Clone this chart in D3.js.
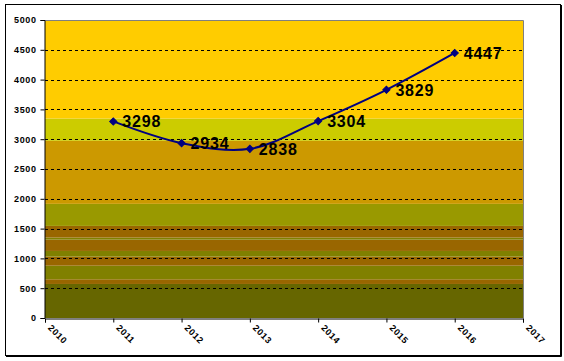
<!DOCTYPE html>
<html>
<head>
<meta charset="utf-8">
<script src="https://cdn.jsdelivr.net/npm/d3@7"></script>
<style>
body { margin: 0; background: #fff; }
svg text { font-family: "Liberation Sans", Arial, sans-serif; font-weight: bold; }
</style>
</head>
<body>
<svg id="graphique" width="564" height="361"></svg>
<script>
// données
var annees = [2011, 2012, 2013, 2014, 2015, 2016];
var valeurs = [3298, 2934, 2838, 3304, 3829, 4447];
var xTicks = [2010, 2011, 2012, 2013, 2014, 2015, 2016, 2017];
var yTicks = [0, 500, 1000, 1500, 2000, 2500, 3000, 3500, 4000, 4500, 5000];

// bandes de fond (bornes basses / hautes)
var bandesBas =  [0,    571,  650,  878,  1030, 1125, 1315, 1349, 1545, 1915, 2973, 3347];
var bandesHaut = [571,  650,  878,  1030, 1125, 1315, 1349, 1545, 1915, 2973, 3347, 5000];
var bandesCouleurs = ["#666600", "#996600", "#808000", "#996600", "#808000", "#996600",
	"#808000", "#996600", "#999900", "#CC9900", "#CCCC00", "#FFCC00"];

var graphique = d3.select("#graphique");
var MARGINS = { top: 20, right: 41, bottom: 43, left: 45 };
var WIDTH = 564, HEIGHT = 361;

var xScale = d3.scaleLinear().domain([2010, 2017]).range([MARGINS.left, WIDTH - MARGINS.right]);
var yScale = d3.scaleLinear().domain([0, 5000]).range([HEIGHT - MARGINS.bottom, MARGINS.top]);

// cadre extérieur
graphique.append("rect")
	.attr("x", 5.5).attr("y", 4.5).attr("width", 555).attr("height", 351)
	.attr("fill", "#fff").attr("stroke", "#000").attr("stroke-width", 1);
graphique.append("path")
	.attr("d", "M6,356.5H561.5V5")
	.attr("stroke", "#000").attr("stroke-width", 1).attr("fill", "none");

// bandes
bandesBas.forEach(function(b, i){
	graphique.append("rect")
		.attr("x", xScale(2010))
		.attr("y", yScale(bandesHaut[i]))
		.attr("width", xScale(2017) - xScale(2010))
		.attr("height", yScale(b) - yScale(bandesHaut[i]))
		.attr("fill", bandesCouleurs[i]);
});

// bord gris de la zone de traçage
graphique.append("path")
	.attr("d", "M" + xScale(2010) + "," + (yScale(5000) + 0.5) + "H" + (xScale(2017) + 0.5) + "V" + yScale(0))
	.attr("stroke", "#808080").attr("stroke-width", 1).attr("fill", "none");

// lignes de quadrillage
yTicks.filter(function(t){ return t > 0 && t < 5000; }).forEach(function(t){
	graphique.append("line")
		.attr("x1", xScale(2010)).attr("x2", xScale(2017))
		.attr("y1", Math.round(yScale(t)) + 0.5).attr("y2", Math.round(yScale(t)) + 0.5)
		.attr("stroke", "#000").attr("stroke-width", 1)
		.attr("stroke-dasharray", "3,3");
});

// axes
var yAxis = d3.axisLeft(yScale).tickValues(yTicks).tickSize(4).tickPadding(4).tickFormat(d3.format("d"));
var gy = graphique.append("g")
	.attr("transform", "translate(" + (MARGINS.left - 0.5) + ",0)")
	.call(yAxis);
gy.selectAll("text").attr("font-size", 9).attr("letter-spacing", "0.6px").attr("fill", "#000");
gy.selectAll("line, path").attr("stroke", "#000");

var xAxis = d3.axisBottom(xScale).tickValues(xTicks).tickSize(4).tickFormat(d3.format("d"));
var gx = graphique.append("g")
	.attr("transform", "translate(0," + (HEIGHT - MARGINS.bottom + 0.5) + ")")
	.call(xAxis);
gx.selectAll("line, path").attr("stroke", "#000");
gx.selectAll("text")
	.attr("font-size", 9).attr("letter-spacing", "0.6px").attr("fill", "#000")
	.attr("text-anchor", "start")
	.attr("dy", 0)
	.attr("transform", "translate(2,10) rotate(45)")
	.attr("y", 0).attr("x", 0);

// courbe
var points = annees.map(function(a, i){ return { year: a, rate: valeurs[i] }; });
var line = d3.line()
	.x(function(d){ return xScale(d.year); })
	.y(function(d){ return yScale(d.rate); })
	.curve(d3.curveCatmullRom.alpha(0.5));

graphique.append("path")
	.attr("d", line(points))
	.attr("stroke", "#000080")
	.attr("stroke-width", 2)
	.attr("fill", "none");

// losanges : carré tourné de 45°
var losange = d3.symbol().type(d3.symbolSquare).size(26);
points.forEach(function(d){
	graphique.append("path")
		.attr("d", losange())
		.attr("transform", "translate(" + xScale(d.year) + "," + yScale(d.rate) + ") rotate(45)")
		.attr("fill", "#000080")
		.attr("stroke", "#000080");

	graphique.append("text")
		.attr("x", xScale(d.year) + 9)
		.attr("y", yScale(d.rate) + 6)
		.attr("font-size", 16)
		.attr("letter-spacing", "0.8px")
		.attr("fill", "#000")
		.text(d.rate);
});
</script>
</body>
</html>
